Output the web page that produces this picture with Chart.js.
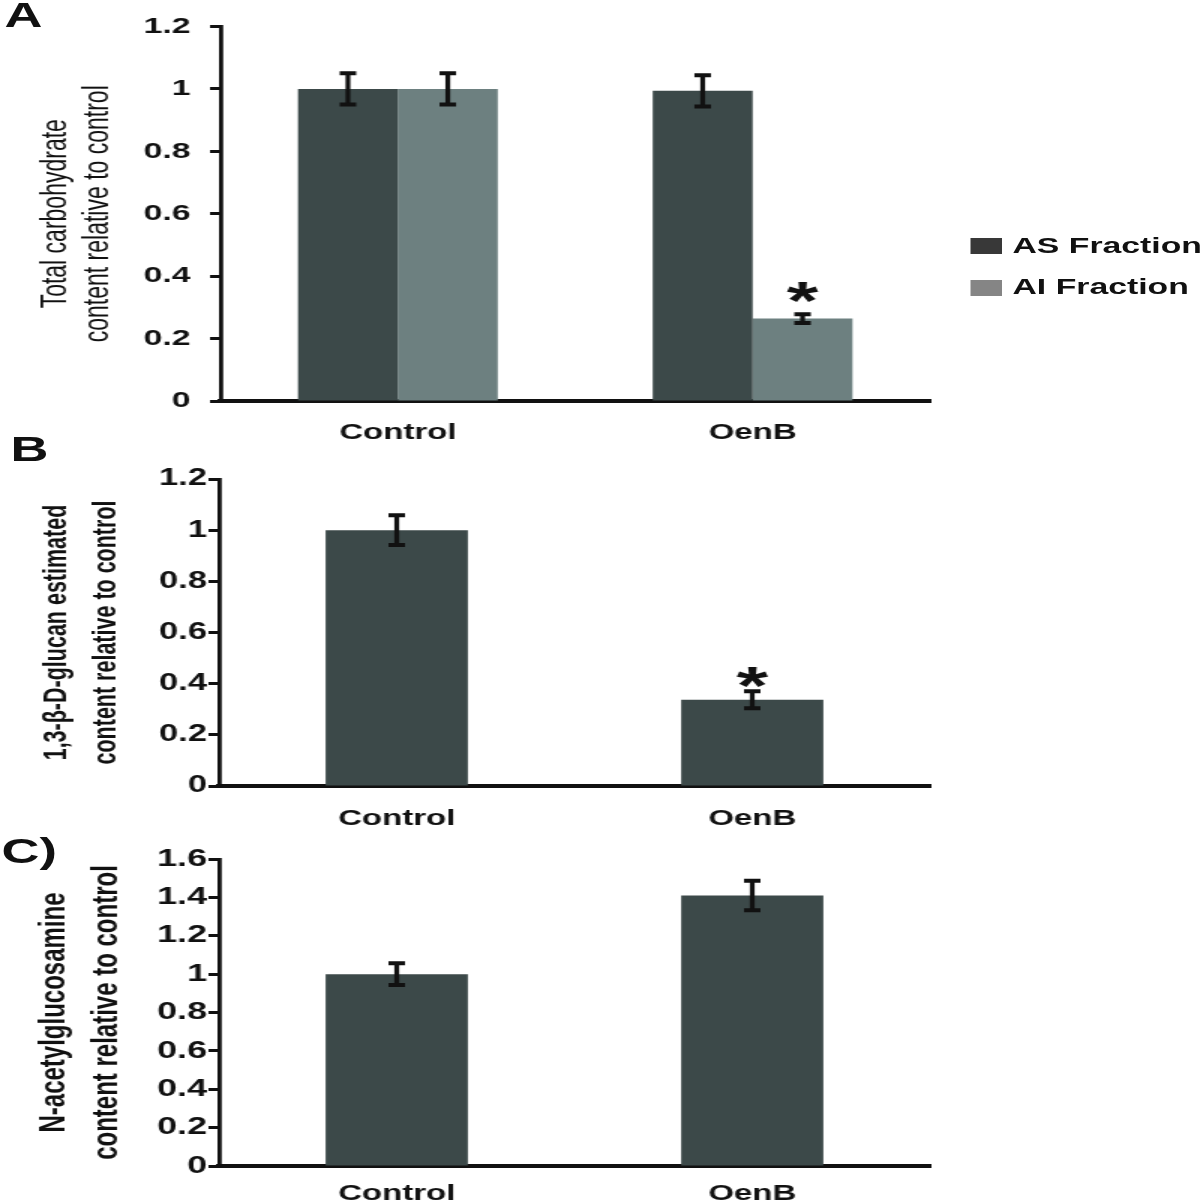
<!DOCTYPE html>
<html>
<head>
<meta charset="utf-8">
<script src="https://cdn.jsdelivr.net/npm/chart.js@4.4.1/dist/chart.umd.min.js"></script>
<style>
  html, body { margin: 0; padding: 0; background: #fff; overflow: hidden; }
  /* the original figure is stretched sideways, so the whole stage is drawn 800 wide and scaled */
  #stage { position: absolute; left: 0; top: 0; width: 800px; height: 1200px;
           transform: scaleX(1.5); transform-origin: 0 0;
           font-family: 'Liberation Sans', Arial, sans-serif; color: #111; }
  #stage canvas { position: absolute; left: 0; }
  .panel { position: absolute; font-weight: bold; font-size: 35px; line-height: 40px; }
  .swatch { position: absolute; left: 647px; width: 21px; height: 16px; }
  .legend-text { position: absolute; left: 675px; font-weight: bold; font-size: 22.5px;
                 line-height: 26px; white-space: nowrap; }
</style>
</head>
<body>
<div id="stage">
  <div class="panel" style="left:3px; top:-5px;">A</div>
  <div class="panel" style="left:7px; top:429px;">B</div>
  <div class="panel" style="left:1px; top:831px;">C)</div>

  <div class="swatch" style="top:238px; background:#383838;"></div>
  <div class="legend-text" style="top:233px;">AS Fraction</div>
  <div class="swatch" style="top:280px; background:#858585;"></div>
  <div class="legend-text" style="top:274px;">AI Fraction</div>

  <canvas id="chartA" width="800" height="445" style="top:0px;"></canvas>
  <canvas id="chartB" width="800" height="395" style="top:435px;"></canvas>
  <canvas id="chartC" width="800" height="374" style="top:826px;"></canvas>
</div>

<script>
const categories = ['Control', 'OenB'];

// A: total carbohydrate
const asFraction = [1.0, 0.994];
const asFractionErr = [0.05, 0.05];
const aiFraction = [1.0, 0.264];
const aiFractionErr = [0.05, 0.014];
const aiMarks = ['', '*'];
const ticksA = ['0', '0.2', '0.4', '0.6', '0.8', '1', '1.2'];

// B: 1,3-beta-D-glucan
const glucan = [1.0, 0.337];
const glucanErr = [0.058, 0.033];
const glucanMarks = ['', '*'];
const ticksB = ['0', '0.2', '0.4', '0.6', '0.8', '1', '1.2'];

// C: N-acetylglucosamine
const glcnac = [1.0, 1.41];
const glcnacErr = [0.057, 0.077];
const ticksC = ['0', '0.2', '0.4', '0.6', '0.8', '1', '1.2', '1.4', '1.6'];

const FONT = "'Liberation Sans', Arial, sans-serif";
const DARK = '#3c4949';
const LIGHT = '#6d8080';

// error bars + significance stars
const errorBars = {
  id: 'errorBars',
  afterDatasetsDraw(chart, args, opts) {
    const ctx = chart.ctx;
    const yScale = chart.scales.y;
    chart.data.datasets.forEach((ds, di) => {
      const meta = chart.getDatasetMeta(di);
      meta.data.forEach((bar, i) => {
        const v = ds.data[i];
        const e = ds.errors[i];
        const top = yScale.getPixelForValue(v + e);
        const bot = yScale.getPixelForValue(v - e);
        ctx.save();
        ctx.strokeStyle = '#111';
        ctx.lineWidth = 3.2;
        ctx.beginPath();
        ctx.moveTo(bar.x, top);
        ctx.lineTo(bar.x, bot);
        ctx.stroke();
        ctx.lineWidth = 4;
        ctx.beginPath();
        ctx.moveTo(bar.x - 5.5, top); ctx.lineTo(bar.x + 5.5, top);
        ctx.moveTo(bar.x - 5.5, bot); ctx.lineTo(bar.x + 5.5, bot);
        ctx.stroke();
        if (ds.marks && ds.marks[i]) {
          ctx.fillStyle = '#111';
          ctx.font = 'bold 54px ' + FONT;
          ctx.textAlign = 'center';
          ctx.textBaseline = 'alphabetic';
          ctx.fillText(ds.marks[i], bar.x, top + opts.markOffset);
        }
        ctx.restore();
      });
    });
  }
};

function buildOptions(p) {
  return {
    responsive: false,
    animation: false,
    devicePixelRatio: 1,
    layout: { padding: { top: p.padTop, right: 180, left: 0, bottom: 0 } },
    plugins: {
      legend: { display: false },
      tooltip: { enabled: false },
      errorBars: { markOffset: p.markOffset }
    },
    scales: {
      x: {
        grid: { display: false, drawTicks: false },
        border: { display: true, color: '#111', width: 4 },
        ticks: { color: '#111', padding: p.xPad, font: { family: FONT, size: 22, weight: 'bold' } },
        afterFit: (s) => { s.height = p.xHeight; }
      },
      y: {
        min: 0,
        max: p.max,
        grid: { drawOnChartArea: false, drawTicks: true, tickLength: 7, tickWidth: 3, tickColor: '#111' },
        border: { display: true, color: '#111', width: 2.8 },
        ticks: {
          stepSize: 0.2,
          autoSkip: false,
          color: '#111',
          padding: p.tickPad,
          font: { family: FONT, size: p.tickSize, weight: 'bold' },
          callback: (v, i) => p.tickLabels[i]
        },
        title: {
          display: true,
          text: p.title,
          color: '#111',
          padding: { top: p.titlePad, bottom: 0 },
          font: { family: FONT, size: p.titleSize, weight: p.titleWeight, lineHeight: p.titleLine }
        },
        afterFit: (s) => { s.width = p.yWidth; }
      }
    }
  };
}

new Chart(document.getElementById('chartA'), {
  type: 'bar',
  data: {
    labels: categories,
    datasets: [
      { label: 'AS Fraction', data: asFraction, errors: asFractionErr, backgroundColor: DARK,
        borderWidth: 0, categoryPercentage: 0.563, barPercentage: 1 },
      { label: 'AI Fraction', data: aiFraction, errors: aiFractionErr, marks: aiMarks, backgroundColor: LIGHT,
        borderWidth: 0, categoryPercentage: 0.563, barPercentage: 1 }
    ]
  },
  options: buildOptions({
    padTop: 23, xHeight: 44, yWidth: 147, max: 1.2, tickLabels: ticksA,
    tickSize: 22.5, tickPad: 13, xPad: 19, markOffset: 5,
    title: ['Total carbohydrate', 'content relative to control'],
    titleSize: 23, titleWeight: 'normal', titleLine: 1.22, titlePad: 24
  }),
  plugins: [errorBars]
});

new Chart(document.getElementById('chartB'), {
  type: 'bar',
  data: {
    labels: categories,
    datasets: [
      { label: 'glucan', data: glucan, errors: glucanErr, marks: glucanMarks, backgroundColor: DARK,
        borderWidth: 0, categoryPercentage: 0.4, barPercentage: 1 }
    ]
  },
  options: buildOptions({
    padTop: 44, xHeight: 44, yWidth: 146, max: 1.2, tickLabels: ticksB,
    tickSize: 23, tickPad: 1, xPad: 20, markOffset: 13,
    title: ['1,3-\u03b2-D-glucan estimated', 'content relative to control'],
    titleSize: 21.5, titleWeight: 'bold', titleLine: 1.52, titlePad: 22
  }),
  plugins: [errorBars]
});

new Chart(document.getElementById('chartC'), {
  type: 'bar',
  data: {
    labels: categories,
    datasets: [
      { label: 'glcnac', data: glcnac, errors: glcnacErr, backgroundColor: DARK,
        borderWidth: 0, categoryPercentage: 0.4, barPercentage: 1 }
    ]
  },
  options: buildOptions({
    padTop: 33, xHeight: 34, yWidth: 146, max: 1.6, tickLabels: ticksC,
    tickSize: 24, tickPad: 1, xPad: 15, markOffset: 20,
    title: ['N-acetylglucosamine', 'content relative to control'],
    titleSize: 24, titleWeight: 'bold', titleLine: 1.45, titlePad: 19
  }),
  plugins: [errorBars]
});
</script>
</body>
</html>
